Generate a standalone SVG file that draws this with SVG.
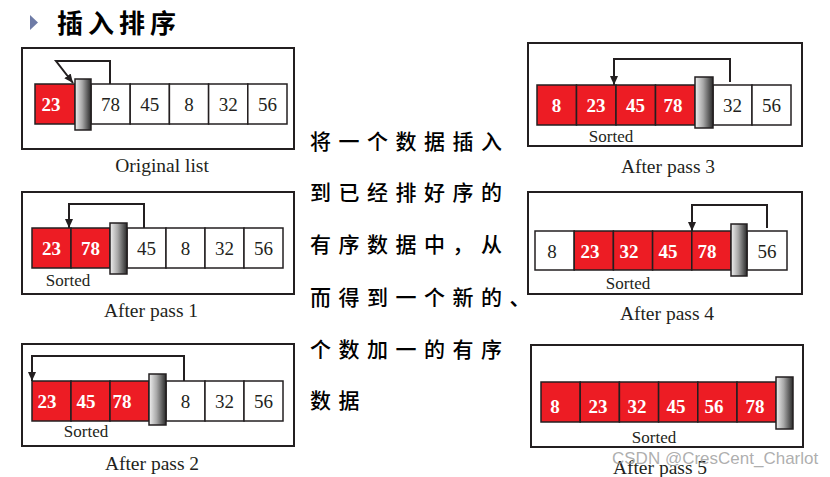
<svg xmlns="http://www.w3.org/2000/svg" width="830" height="477" viewBox="0 0 830 477">
<defs>
<linearGradient id="barGrad" x1="0" y1="0" x2="1" y2="0">
<stop offset="0" stop-color="#f0f0f0"/>
<stop offset="0.45" stop-color="#a8a8a8"/>
<stop offset="1" stop-color="#2a2a2a"/>
</linearGradient>
<marker id="arrow" markerUnits="userSpaceOnUse" markerWidth="10" markerHeight="10" refX="9" refY="5" orient="auto">
<path d="M0,1 L9,5 L0,9 z" fill="#231f20"/>
</marker>
<style>
.frame{fill:#fff;stroke:#231f20;stroke-width:2}
.red{fill:#ed1c24;stroke:#231f20;stroke-width:1.5}
.white{fill:#fff;stroke:#231f20;stroke-width:1.5}
.bar{fill:url(#barGrad);stroke:#231f20;stroke-width:1.5}
.num{font-family:"Liberation Serif","Times New Roman",serif;font-size:19px;fill:#231f20;text-anchor:middle}
.rnum{font-family:"Liberation Serif","Times New Roman",serif;font-size:19px;font-weight:bold;fill:#fff;text-anchor:middle}
.sorted{font-family:"Liberation Serif","Times New Roman",serif;font-size:17px;fill:#231f20;text-anchor:middle}
.cap{font-family:"Liberation Serif","Times New Roman",serif;font-size:19.5px;fill:#231f20;text-anchor:middle}
.conn{fill:none;stroke:#231f20;stroke-width:2;marker-end:url(#arrow)}
.cn{font-family:"Noto Sans CJK SC","Noto Sans CJK JP",sans-serif;font-size:21px;font-weight:500;fill:#000;letter-spacing:7.5px}
</style>
</defs>
<rect width="830" height="477" fill="#fff"/>

<g id="title">
<polygon points="30,15 38,22.5 30,30" fill="#6e7ba6"/>
<text x="57" y="33" font-family="'Noto Sans CJK SC','Noto Sans CJK JP',sans-serif" font-size="26" font-weight="bold" letter-spacing="5" fill="#000">插入排序</text>
</g>

<g id="original-list">
<rect class="frame" x="22" y="48" width="272" height="101"/>
<rect class="red" x="35" y="84" width="40" height="40"/>
<rect class="white" x="91" y="84" width="39.2" height="40"/>
<rect class="white" x="130.2" y="84" width="39.2" height="40"/>
<rect class="white" x="169.4" y="84" width="39.2" height="40"/>
<rect class="white" x="208.6" y="84" width="39.2" height="40"/>
<rect class="white" x="247.8" y="84" width="39.2" height="40"/>
<rect class="bar" x="75" y="79" width="16" height="51"/>
<text class="rnum" x="51" y="111">23</text>
<text class="num" x="110.6" y="111">78</text>
<text class="num" x="149.8" y="111">45</text>
<text class="num" x="189" y="111">8</text>
<text class="num" x="228.2" y="111">32</text>
<text class="num" x="267.4" y="111">56</text>
<text class="cap" x="162" y="172">Original list</text>
</g>

<g id="after-pass-1">
<rect class="frame" x="22" y="192" width="272" height="102"/>
<rect class="red" x="32" y="228" width="39" height="40"/>
<rect class="red" x="71" y="228" width="39" height="40"/>
<rect class="white" x="127" y="228" width="39" height="40"/>
<rect class="white" x="166" y="228" width="39" height="40"/>
<rect class="white" x="205" y="228" width="39" height="40"/>
<rect class="white" x="244" y="228" width="39" height="40"/>
<rect class="bar" x="110" y="223" width="17" height="51"/>
<text class="rnum" x="51.5" y="255">23</text>
<text class="rnum" x="90.5" y="255">78</text>
<text class="num" x="146.5" y="255">45</text>
<text class="num" x="185.5" y="255">8</text>
<text class="num" x="224.5" y="255">32</text>
<text class="num" x="263.5" y="255">56</text>
<text class="sorted" x="68" y="286">Sorted</text>
<text class="cap" x="151" y="317">After pass 1</text>
</g>

<g id="after-pass-2">
<rect class="frame" x="22" y="344" width="272" height="102"/>
<rect class="red" x="32" y="381" width="39" height="40"/>
<rect class="red" x="71" y="381" width="39" height="40"/>
<rect class="red" x="110" y="381" width="39" height="40"/>
<rect class="white" x="166" y="381" width="39" height="40"/>
<rect class="white" x="205" y="381" width="39" height="40"/>
<rect class="white" x="244" y="381" width="39" height="40"/>
<rect class="bar" x="149" y="374" width="17" height="51"/>
<text class="rnum" x="47" y="408">23</text>
<text class="rnum" x="86" y="408">45</text>
<text class="rnum" x="122" y="408">78</text>
<text class="num" x="185.5" y="408">8</text>
<text class="num" x="224.5" y="408">32</text>
<text class="num" x="263.5" y="408">56</text>
<text class="sorted" x="86" y="437">Sorted</text>
<text class="cap" x="152" y="470">After pass 2</text>
</g>

<g id="after-pass-3">
<rect class="frame" x="528" y="43" width="274" height="103"/>
<rect class="red" x="537" y="85" width="39.5" height="40"/>
<rect class="red" x="576.5" y="85" width="39.5" height="40"/>
<rect class="red" x="616" y="85" width="39.5" height="40"/>
<rect class="red" x="655.5" y="85" width="39.5" height="40"/>
<rect class="white" x="713" y="85" width="39" height="40"/>
<rect class="white" x="752" y="85" width="39" height="40"/>
<rect class="bar" x="695" y="77" width="18" height="51"/>
<text class="rnum" x="556.5" y="112">8</text>
<text class="rnum" x="596" y="112">23</text>
<text class="rnum" x="635.5" y="112">45</text>
<text class="rnum" x="673" y="112">78</text>
<text class="num" x="732.5" y="112">32</text>
<text class="num" x="771.5" y="112">56</text>
<text class="sorted" x="611" y="142">Sorted</text>
<text class="cap" x="668" y="173">After pass 3</text>
</g>

<g id="after-pass-4">
<rect class="frame" x="528" y="192" width="274" height="102"/>
<rect class="white" x="535" y="231" width="39.2" height="39"/>
<rect class="red" x="574.2" y="231" width="39.2" height="39"/>
<rect class="red" x="613.4" y="231" width="39.2" height="39"/>
<rect class="red" x="652.6" y="231" width="39.2" height="39"/>
<rect class="red" x="691.8" y="231" width="39.2" height="39"/>
<rect class="white" x="747" y="231" width="40" height="39"/>
<rect class="bar" x="731" y="224" width="16" height="52"/>
<text class="num" x="552" y="258">8</text>
<text class="rnum" x="590" y="258">23</text>
<text class="rnum" x="629" y="258">32</text>
<text class="rnum" x="668" y="258">45</text>
<text class="rnum" x="707" y="258">78</text>
<text class="num" x="767" y="258">56</text>
<text class="sorted" x="628" y="289">Sorted</text>
<text class="cap" x="667" y="320">After pass 4</text>
</g>

<g id="after-pass-5">
<rect class="frame" x="531" y="345" width="272" height="102"/>
<rect class="red" x="541" y="382" width="39.2" height="40"/>
<rect class="red" x="580.2" y="382" width="39.2" height="40"/>
<rect class="red" x="619.4" y="382" width="39.2" height="40"/>
<rect class="red" x="658.6" y="382" width="39.2" height="40"/>
<rect class="red" x="697.8" y="382" width="39.2" height="40"/>
<rect class="red" x="737" y="382" width="39.2" height="40"/>
<rect class="bar" x="776" y="377" width="17" height="52"/>
<text class="rnum" x="555" y="413">8</text>
<text class="rnum" x="598" y="413">23</text>
<text class="rnum" x="637" y="413">32</text>
<text class="rnum" x="676" y="413">45</text>
<text class="rnum" x="714" y="413">56</text>
<text class="rnum" x="755" y="413">78</text>
<text class="sorted" x="654" y="443">Sorted</text>
<text class="cap" x="660" y="474">After pass 5</text>
</g>

<g id="connectors">
<path class="conn" d="M110,84 V61 H56 L73,83"/>
<path class="conn" d="M144,228 V204 H69 V228"/>
<path class="conn" d="M184,381 V356 H32 V381"/>
<path class="conn" d="M730,82 V59 H614 V85"/>
<path class="conn" d="M767,228 V205 H692 V231"/>
</g>

<g id="description">
<text class="cn" x="310" y="149">将一个数据插入</text>
<text class="cn" x="310" y="200">到已经排好序的</text>
<text class="cn" x="310" y="252">有序数据中，从</text>
<text class="cn" x="310" y="305">而得到一个新的、</text>
<text class="cn" x="310" y="357">个数加一的有序</text>
<text class="cn" x="310" y="408">数据</text>
</g>

<text x="612" y="464" font-family="'Liberation Sans',Arial,sans-serif" font-size="17" fill="#999" fill-opacity="0.8">CSDN @CresCent_Charlot</text>
</svg>
